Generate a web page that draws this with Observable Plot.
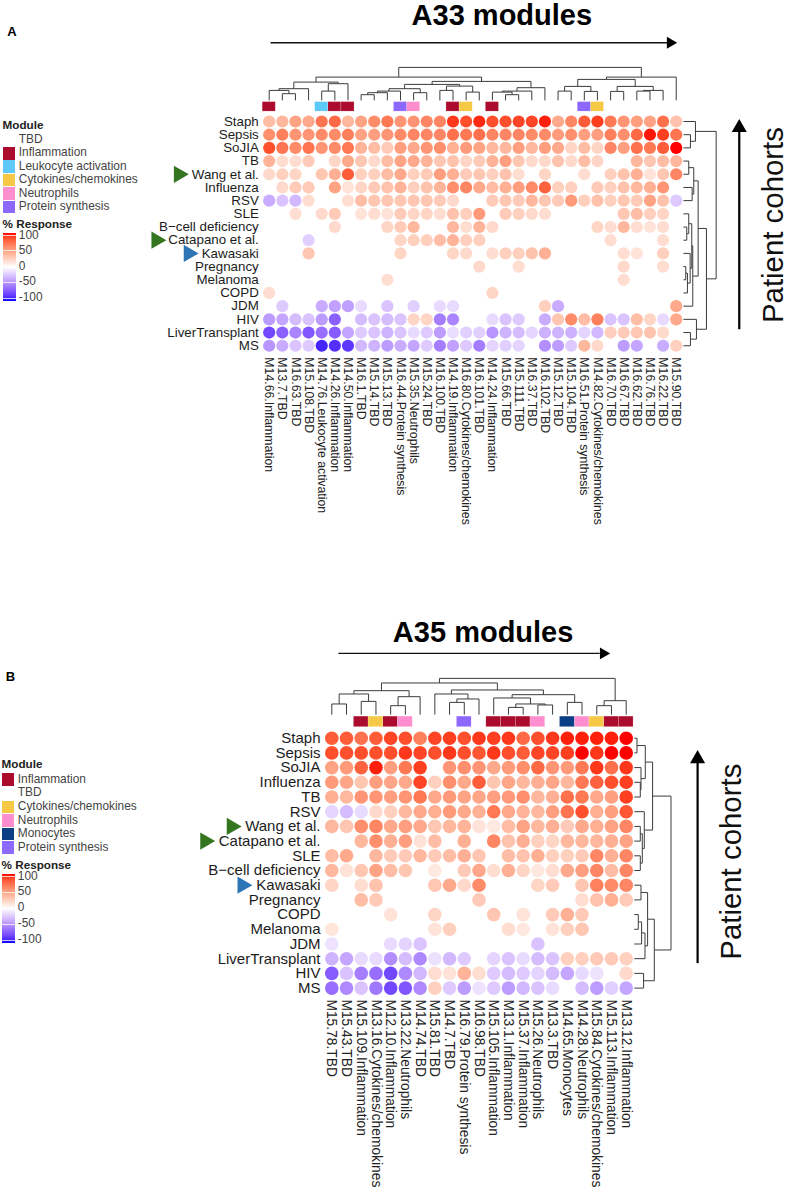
<!DOCTYPE html>
<html><head><meta charset="utf-8">
<script src="https://cdn.jsdelivr.net/npm/d3@7"></script>
<script src="https://cdn.jsdelivr.net/npm/@observablehq/plot@0.6"></script>
<style>
html,body{margin:0;padding:0;background:#fff}
#page{position:relative;width:785px;height:1192px;overflow:hidden;font-family:"Liberation Sans",Arial,sans-serif}
#page svg{position:absolute;left:0}
.lg{position:absolute;white-space:nowrap;line-height:1;transform:translateY(-50%)}
</style></head><body><div id="page"></div>
<script>
const _ = null;
// ---------- Panel A ----------
const columnsA = ["M14.66.Inflammation","M13.7.TBD","M16.63.TBD","M15.108.TBD","M14.76.Leukocyte activation","M14.26.Inflammation","M14.50.Inflammation","M16.1.TBD","M15.14.TBD","M15.13.TBD","M16.44.Protein synthesis","M15.35.Neutrophils","M15.24.TBD","M16.100.TBD","M14.19.Inflammation","M16.80.Cytokines/chemokines","M16.101.TBD","M14.24.Inflammation","M15.66.TBD","M15.111.TBD","M16.37.TBD","M16.102.TBD","M15.12.TBD","M15.104.TBD","M16.51.Protein synthesis","M14.82.Cytokines/chemokines","M16.70.TBD","M16.67.TBD","M16.62.TBD","M16.76.TBD","M16.22.TBD","M15.90.TBD"];
const cohortsA = ["Staph","Sepsis","SoJIA","TB","Wang et al.","Influenza","RSV","SLE","B\u2212cell deficiency","Catapano et al.","Kawasaki","Pregnancy","Melanoma","COPD","JDM","HIV","LiverTransplant","MS"];
const a_Staph = [35,38,48,45,70,75,38,48,60,68,55,55,62,62,92,85,95,85,85,88,88,97,45,62,80,90,68,55,50,48,72,32];
const a_Sepsis = [58,65,55,55,60,60,65,48,50,55,60,62,62,62,72,68,72,62,62,62,60,60,52,58,50,50,65,58,75,98,90,70];
const a_SoJIA = [85,70,60,70,55,60,68,40,35,28,50,45,55,58,42,52,48,38,38,50,38,50,45,22,35,22,62,50,72,68,80,100];
const a_TB = [40,18,18,28,_,22,45,30,20,35,48,45,40,30,32,22,28,40,50,30,20,20,32,20,35,22,_,_,38,30,35,38];
const a_Wang = [20,25,22,_,30,42,80,25,25,35,45,25,28,50,42,28,30,25,32,18,_,22,_,_,18,_,25,32,42,15,30,62];
const a_Influenza = [_,20,28,28,_,48,15,22,28,32,40,25,32,40,58,62,45,35,42,50,60,78,25,25,_,28,25,32,38,42,55,_];
const a_RSV = [-35,-25,-30,18,_,_,18,35,30,30,30,30,30,28,20,_,_,28,30,28,38,30,28,52,25,32,25,30,28,48,32,-22];
const a_SLE = [_,_,18,_,20,28,_,15,18,15,28,22,22,18,32,25,52,_,28,25,20,18,_,_,_,_,_,30,35,25,22,_];
const a_Bcell = [_,_,_,_,_,20,_,_,_,22,28,38,_,_,38,18,40,20,_,_,_,_,_,_,_,22,18,38,18,15,18,_];
const a_Catapano = [_,_,_,-20,_,_,_,_,_,_,22,25,25,35,40,25,25,_,_,_,_,_,_,_,_,_,18,_,_,_,18,_];
const a_Kawasaki = [_,_,_,30,_,_,_,_,_,_,22,_,_,_,22,20,_,18,25,25,32,42,_,_,_,_,_,18,15,_,25,_];
const a_Pregnancy = [_,_,_,_,_,_,_,_,_,_,_,_,_,_,_,_,20,_,_,18,_,_,_,_,_,_,_,20,_,_,18,_];
const a_Melanoma = [_,_,_,_,_,_,_,_,_,18,_,_,_,_,_,_,_,_,_,_,_,_,_,_,_,_,_,18,_,_,_,_];
const a_COPD = [18,_,_,_,_,_,_,_,_,_,_,_,_,_,_,_,_,22,_,_,_,_,_,_,_,_,_,_,_,_,_,_];
const a_JDM = [_,-22,_,_,-35,-40,-40,-15,_,-25,_,-20,_,-15,-15,_,_,_,_,_,_,25,-35,_,_,_,_,_,_,_,_,45];
const a_HIV = [-42,-38,-28,-25,-42,-68,_,-28,-25,-28,-25,22,22,-55,-52,_,_,-15,-25,-22,_,-35,30,60,35,65,-25,-25,35,22,-15,45];
const a_Liver = [-78,-68,-52,-72,-62,-70,-38,-22,-25,-32,-25,-15,-22,-42,-14,-20,-20,-45,-32,-28,-18,-33,-32,-33,-18,-30,26,28,30,32,20,_];
const a_MS = [-45,-35,-25,-22,-92,-88,-85,-30,-32,-42,-35,-38,-22,-55,-40,-22,-55,-18,-20,-18,_,-48,-42,-22,38,20,_,-42,-38,_,-35,25];
const valuesA = [a_Staph,a_Sepsis,a_SoJIA,a_TB,a_Wang,a_Influenza,a_RSV,a_SLE,a_Bcell,a_Catapano,a_Kawasaki,a_Pregnancy,a_Melanoma,a_COPD,a_JDM,a_HIV,a_Liver,a_MS];
// dendrograms: [height, left, right], leaves are indices
const colTreeA = [33,[23.3,[18.3,[11.7,[10,0,[6.7,1,2]],3],[16.7,[9.3,4,5],6]],[19,[16,[11.7,[9.3,[7.7,[5.7,7,8],9],10],[7.7,11,12]],[14.3,[10,13,14],[8.3,15,16]]],[12.7,[9.3,[8.3,17,[5.7,18,19]],20],21]]],[23.3,[21,[14,[9.3,22,23],[9,24,25]],[14,[9,26,27],[10,[9.3,28,29],30]]],31]];
const rowTreeA = [32.7,[12,0,[7,1,2]],[23,[14.7,[10.3,[5.3,3,4],[8.7,5,6]],[9.3,[8.3,[5.3,7,[3.3,8,9]],[6.7,10,[4,[2.3,11,12],13]]],14]],[13,15,[7,16,17]]]];

// ---------- Panel B ----------
const columnsB = ["M15.78.TBD","M15.43.TBD","M15.109.Inflammation","M13.16.Cytokines/chemokines","M12.10.Inflammation","M13.22.Neutrophils","M14.74.TBD","M15.81.TBD","M14.7.TBD","M16.79.Protein synthesis","M16.98.TBD","M15.105.Inflammation","M13.1.Inflammation","M15.37.Inflammation","M15.26.Neutrophils","M13.3.TBD","M14.65.Monocytes","M14.28.Neutrophils","M15.84.Cytokines/chemokines","M15.113.Inflammation","M13.12.Inflammation"];
const cohortsB = ["Staph","Sepsis","SoJIA","Influenza","TB","RSV","Wang et al.","Catapano et al.","SLE","B\u2212cell deficiency","Kawasaki","Pregnancy","COPD","Melanoma","JDM","LiverTransplant","HIV","MS"];
const b_Staph = [80,80,72,80,88,85,65,88,90,85,92,90,92,75,85,92,97,97,97,97,100];
const b_Sepsis = [85,85,85,85,85,92,88,85,92,85,82,92,85,80,88,88,90,100,92,100,100];
const b_SoJIA = [48,52,78,97,50,68,90,_,55,58,55,45,52,58,75,55,52,68,92,72,92];
const b_Influenza = [52,47,30,50,47,45,88,25,58,45,80,30,47,38,42,47,38,68,78,85,90];
const b_TB = [42,38,55,55,50,55,68,45,52,48,47,50,52,58,38,42,72,68,45,50,90];
const b_RSV = [-18,-28,-15,20,25,38,45,42,52,45,41,68,45,40,38,50,70,85,42,50,82];
const b_Wang = [38,30,58,62,45,50,45,30,38,40,15,12,35,48,38,42,28,45,42,48,62];
const b_Catapano = [_,_,38,58,42,50,15,35,_,42,_,62,32,42,25,22,38,38,38,42,48];
const b_SLE = [35,45,_,38,28,28,38,28,35,42,30,_,35,32,42,25,25,28,62,42,62];
const b_Bcell = [38,15,30,48,35,30,_,12,_,28,46,18,42,22,12,18,45,50,62,35,62];
const b_Kawasaki = [22,_,18,32,_,_,_,30,45,20,60,_,_,_,22,28,_,30,65,60,62];
const b_Pregnancy = [_,_,35,28,_,_,_,_,_,_,28,_,_,_,_,_,_,18,32,42,28];
const b_COPD = [_,_,_,_,15,_,_,22,_,_,_,30,_,15,_,28,42,28,_,_,_];
const b_Melanoma = [14,_,_,_,_,_,_,15,25,_,_,_,18,12,_,15,25,30,_,_,_];
const b_JDM = [-12,_,_,_,-15,-18,-25,_,_,_,_,_,_,_,-25,_,_,_,_,_,_];
const b_Liver = [-32,-38,-15,-15,-48,-28,-50,-13,-30,-22,_,-18,-25,-15,-28,-25,25,25,28,28,25];
const b_HIV = [-70,-25,-55,-62,-78,-50,-30,18,15,40,18,-22,-28,-22,-18,-28,-38,-15,-12,_,20];
const b_MS = [-62,-50,-25,-58,-78,-72,-50,25,-22,-42,-12,-22,-42,-30,-25,-15,_,-28,-42,-20,-38];
const valuesB = [b_Staph,b_Sepsis,b_SoJIA,b_Influenza,b_TB,b_RSV,b_Wang,b_Catapano,b_SLE,b_Bcell,b_Kawasaki,b_Pregnancy,b_COPD,b_Melanoma,b_JDM,b_Liver,b_HIV,b_MS];
const colTreeB = [36.3,[31.7,[24,[20.7,[10.7,0,1],[13.3,2,3]],[18,[9,4,5],6]],[24.7,[20.7,7,[15.7,[12.3,8,9],10]],[20,[16.7,11,[10.7,[7.3,12,13],[9.7,14,15]]],[12.3,16,17]]]],[14,[9,18,19],20]];
const rowTreeB = [36.7,[18.3,[11,[2.7,0,1],[6.7,2,[6,3,4]]],[10,5,[8,[6,6,7],[6,8,9]]]],[20,[13.3,[6.7,10,11],[10.7,[7.3,[4,12,13],14],15]],[9.3,16,17]]];

const moduleColors = {Inflammation:"#ab0c2d","Leukocyte activation":"#5ec9fb","Cytokines/chemokines":"#f5c945",Neutrophils:"#ff8ecf","Protein synthesis":"#8c68ff",Monocytes:"#0a3f86",TBD:"#ffffff"};
const legendModulesA = ["TBD","Inflammation","Leukocyte activation","Cytokines/chemokines","Neutrophils","Protein synthesis"];
const legendModulesB = ["Inflammation","TBD","Cytokines/chemokines","Neutrophils","Monocytes","Protein synthesis"];
const legendTicks = [100,50,0,-50,-100];
const font = '"Liberation Sans",Arial,sans-serif';

function treeSegments(tree){
  const segs=[];
  (function walk(n){
    if(typeof n==="number") return {p:n,h:0};
    const a=walk(n[1]), b=walk(n[2]), h=n[0];
    segs.push({p1:a.p,h1:a.h,p2:a.p,h2:h},{p1:b.p,h1:b.h,p2:b.p,h2:h},{p1:a.p,h1:h,p2:b.p,h2:h});
    return {p:(a.p+b.p)/2,h};
  })(tree);
  return segs;
}
const page=document.getElementById("page");
function panel(c){
  const nc=c.columns.length,nr=c.cohorts.length;
  const xs=px=>(px-c.x0)/c.dx, ys=py=>(py-c.y0)/c.dy;
  const cells=[];
  c.values.forEach((row,r)=>row.forEach((v,k)=>{if(v!==null)cells.push({k,r,v});}));
  const colBase=-1.6, rowBase=nc-1+0.55;
  const cs=treeSegments(c.colTree), rs=treeSegments(c.rowTree);
  const modules=c.columns.map((s,i)=>({i,m:s.split(".").slice(2).join(".")}));
  const marks=[];
  // top annotation bars
  Object.keys(moduleColors).filter(m=>m!=="TBD").forEach(m=>{
    marks.push(Plot.rectY(modules.filter(d=>d.m===m),{x1:d=>d.i-.5,x2:d=>d.i+.5,y1:()=>-1.47,y2:()=>-0.75,fill:moduleColors[m],stroke:"#fff",strokeWidth:.4,strokeOpacity:.5}));
  });
  // dendrograms
  marks.push(Plot.link(cs,{x1:"p1",x2:"p2",y1:d=>colBase-d.h1/c.dy,y2:d=>colBase-d.h2/c.dy,stroke:"#3c3c3c",strokeWidth:1}));
  marks.push(Plot.link(rs,{y1:"p1",y2:"p2",x1:d=>rowBase+d.h1/c.dx,x2:d=>rowBase+d.h2/c.dx,stroke:"#3c3c3c",strokeWidth:1}));
  // dots
  marks.push(Plot.dot(cells,{x:"k",y:"r",fill:"v",r:c.r,stroke:null}));
  // labels
  marks.push(Plot.text(c.cohorts,{x:()=>0,y:(d,i)=>i,text:d=>d,textAnchor:"end",dx:c.rowDx,fontSize:c.rowFont,fontFamily:font,fill:"#1c1c1c"}));
  marks.push(Plot.text(c.columns,{x:(d,i)=>i,y:()=>nr-1,text:d=>d,rotate:90,textAnchor:"start",dy:c.colDy,fontSize:c.colFont,fontFamily:font,fill:"#222"}));
  // cohort pointers
  marks.push(Plot.dot(c.pointers,{x:"col",y:"row",symbol:"triangle",rotate:90,r:6.4,fill:"color",stroke:null}));
  // arrows and titles, in column / row units
  marks.push(Plot.link([c.hArrow],{x1:"from",x2:"to",y1:"row",y2:"row",stroke:"#111",strokeWidth:1.4}));
  marks.push(Plot.dot([c.hArrow],{x:"head",y:"row",symbol:"triangle",rotate:90,r:4.4,fill:"#000",stroke:null}));
  marks.push(Plot.link([c.vArrow],{y1:"from",y2:"to",x1:"col",x2:"col",stroke:"#000",strokeWidth:2.2}));
  marks.push(Plot.dot([c.vArrow],{x:"col",y:"head",symbol:"triangle",r:5.6,fill:"#000",stroke:null}));
  marks.push(Plot.text([c.title],{x:"col",y:"row",text:"text",fontSize:29,fontWeight:"bold",fontFamily:font,fill:"#000"}));
  marks.push(Plot.text([c.side],{x:"col",y:"row",text:"text",rotate:-90,fontSize:29.4,fontFamily:font,fill:"#111"}));
  marks.push(Plot.text([c.tag],{x:"col",y:"row",text:"text",fontSize:13,fontWeight:"bold",fontFamily:font,textAnchor:"start",fill:"#000"}));
  const plot=Plot.plot({
    width:785,height:c.height,margin:0,
    style:{background:"transparent",fontFamily:font},
    x:{axis:null,domain:[xs(0),xs(785)],range:[0,785]},
    y:{axis:null,domain:[ys(0),ys(c.height)],range:[0,c.height]},
    color:{type:"linear",domain:[-100,0,100],range:["#0000ff","#ffffff","#ff0000"],interpolate:d3.interpolateLab},
    marks
  });
  plot.style.top=c.top+"px";
  page.appendChild(plot);
}
panel({columns:columnsA,cohorts:cohortsA,values:valuesA,colTree:colTreeA,rowTree:rowTreeA,top:0,height:596,
  x0:268.7,dx:13.13,y0:121,dy:13.19,r:6.1,rowDx:-10.4,rowFont:13.35,colDy:11.6,colFont:12.3,
  pointers:[{col:-6.88,row:4,color:"#33761f"},{col:-8.59,row:9,color:"#33761f"},{col:-6.13,row:10,color:"#2e75b6"}],
  hArrow:{from:0.1,to:30.3,head:30.55,row:-5.97},
  vArrow:{col:35.8,from:15.75,to:0.7,head:0.47},
  title:{col:17.72,row:-8,text:"A33 modules"},
  side:{col:38.45,row:7.85,text:"Patient cohorts"},
  tag:{col:-19.95,row:-6.8,text:"A"}});
panel({columns:columnsB,cohorts:cohortsB,values:valuesB,colTree:colTreeB,rowTree:rowTreeB,top:596,height:596,
  x0:331.3,dx:14.72,y0:141.7,dy:14.7,r:6.8,rowDx:-11.3,rowFont:15,colDy:11.3,colFont:13.8,
  pointers:[{col:-6.8,row:6,color:"#33761f"},{col:-8.6,row:7,color:"#33761f"},{col:-6.07,row:10,color:"#2e75b6"}],
  hArrow:{from:0.45,to:18.2,head:18.45,row:-5.77},
  vArrow:{col:24.85,from:15.3,to:1.6,head:1.4},
  title:{col:10.28,row:-7.2,text:"A35 modules"},
  side:{col:27.16,row:8.4,text:"Patient cohorts"},
  tag:{col:-22.15,row:-4.2,text:"B"}});

// legends
function lg(text,x,y,size,bold,color){
  const e=document.createElement("div");e.className="lg";e.textContent=text;
  e.style.cssText+=`left:${x}px;top:${y}px;font-size:${size}px;font-weight:${bold?"bold":"normal"};color:${color}`;
  page.appendChild(e);
}
function legend(o){
  lg("Module",o.x,o.titleY,11.7,true,"#222");
  o.items.forEach((m,i)=>{
    const y=o.itemY+i*o.step;
    if(m!=="TBD"){
      const s=document.createElement("div");
      s.style.cssText=`position:absolute;left:${o.x}px;top:${y-6.4}px;width:12.6px;height:12.6px;background:${moduleColors[m]}`;
      page.appendChild(s);
    }
    lg(m,o.x+16.2,y,11.9,false,"#444");
  });
  lg("% Response",o.x,o.respY,11.7,true,"#222");
  const stops=d3.range(0,1.0001,.05).map(t=>{
    const v=100-200*t;
    const col=v>=0?d3.interpolateLab("#ffffff","#ff0000")(v/100):d3.interpolateLab("#ffffff","#0000ff")(-v/100);
    return `${col} ${(t*100).toFixed(0)}%`;
  }).join(",");
  const g=document.createElement("div");
  g.style.cssText=`position:absolute;left:${o.x}px;top:${o.barTop}px;width:13.5px;height:${o.barH}px;background:linear-gradient(to bottom,${stops})`;
  page.appendChild(g);
  legendTicks.forEach((t,i)=>{
    const y=o.tickY+i*o.tickStep;
    const l=document.createElement("div");
    l.style.cssText=`position:absolute;left:${o.x}px;top:${y-.5}px;width:13.5px;height:1px;background:rgba(255,255,255,.75)`;
    page.appendChild(l);
    lg(String(t),o.x+16.2,y+(i===0?1:0),11.9,false,"#444");
  });
}
legend({x:2.6,titleY:124.5,itemY:140,step:13.4,items:legendModulesA,respY:224,barTop:233,barH:68,tickY:235,tickStep:15.8});
legend({x:1.6,titleY:764,itemY:779.7,step:13.6,items:legendModulesB,respY:864.7,barTop:874,barH:69,tickY:876,tickStep:16});
</script></body></html>
